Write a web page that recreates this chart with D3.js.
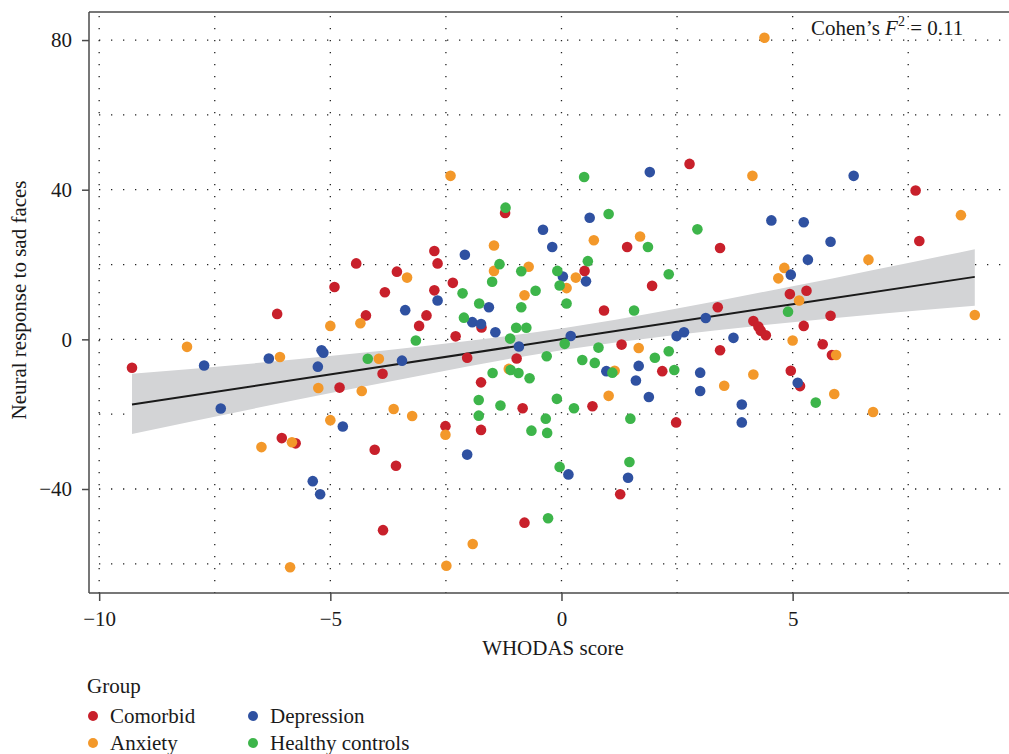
<!DOCTYPE html>
<html>
<head>
<meta charset="utf-8">
<script src="https://cdn.jsdelivr.net/npm/d3@7"></script>
<style>
  body { margin: 0; background: #fff; }
  svg text { font-family: "Liberation Serif", "DejaVu Serif", serif; fill: #1a1a1a; }
</style>
</head>
<body>
<div class="chart"></div>
<script>
// group data: [WHODAS score, neural response]
const comorbid = [
  [-9.29, -7.6], [-6.15, 6.8], [-6.05, -26.4], [-5.75, -27.8], [-4.91, 14.0], [-4.80, -12.9],
  [-4.44, 20.3], [-4.23, 6.4], [-4.04, -29.5], [-3.87, -9.2], [-3.86, -51.0], [-3.82, 12.6],
  [-3.58, -33.8], [-3.56, 18.1], [-3.08, 3.6], [-2.92, 6.4], [-2.75, 23.6], [-2.75, 13.1],
  [-2.68, 20.3], [-2.51, -23.2], [-2.35, 15.1], [-2.29, 0.8], [-2.04, -4.9], [-1.74, -11.5],
  [-1.74, -24.2], [-1.73, 3.2], [-1.22, 33.8], [-0.97, -5.1], [-0.84, -18.4], [-0.80, -49.0],
  [0.50, 18.3], [0.67, -17.9], [0.92, 7.7], [1.27, -41.4], [1.30, -1.4], [1.42, 24.7],
  [1.96, 14.3], [2.18, -8.5], [2.48, -22.2], [2.77, 46.9], [3.38, 8.6], [3.43, -2.9],
  [3.43, 24.4], [4.15, 4.9], [4.26, 3.4], [4.31, 2.3], [4.42, 1.1], [4.94, 12.1],
  [4.96, -8.4], [5.16, -12.5], [5.24, 3.6], [5.30, 13.0], [5.65, -1.3], [5.82, 6.3],
  [5.85, -4.2], [7.66, 39.8], [7.74, 26.3]
];
const anxiety = [
  [-8.10, -2.0], [-6.49, -28.8], [-6.09, -4.7], [-5.87, -60.9], [-5.83, -27.5], [-5.26, -13.0],
  [-5.00, 3.6], [-5.00, -21.6], [-4.35, 4.3], [-4.32, -13.8], [-3.95, -5.2], [-3.63, -18.6],
  [-3.34, 16.5], [-3.23, -20.5], [-2.51, -25.5], [-2.49, -60.5], [-2.40, 43.7], [-1.92, -54.7],
  [-1.46, 25.1], [-1.46, 18.3], [-1.14, -7.9], [-0.80, 11.8], [-0.71, 19.4], [0.11, 13.7],
  [0.31, 16.5], [0.70, 26.5], [1.02, -15.1], [1.15, -8.4], [1.67, -2.3], [1.70, 27.5],
  [3.52, -12.4], [4.13, 43.7], [4.15, -9.4], [4.39, 80.6], [4.69, 16.3], [4.82, 19.1],
  [5.00, -0.3], [5.14, 10.4], [5.90, -14.6], [5.94, -4.2], [6.64, 21.3], [6.74, -19.4],
  [8.64, 33.2], [8.94, 6.5]
];
const depression = [
  [-7.73, -7.0], [-7.37, -18.5], [-6.33, -5.1], [-5.38, -37.9], [-5.27, -7.3], [-5.22, -41.4],
  [-5.19, -2.9], [-5.15, -3.6], [-4.73, -23.3], [-3.45, -5.7], [-3.38, 7.8], [-2.68, 10.4],
  [-2.09, 22.6], [-2.04, -30.8], [-1.93, 4.6], [-1.74, 4.1], [-1.57, 8.6], [-1.43, 1.9],
  [-0.92, -1.9], [-0.40, 29.3], [-0.20, 24.7], [0.03, 16.8], [0.15, -36.1], [0.20, 0.9],
  [0.53, 15.5], [0.61, 32.5], [0.97, -8.5], [1.44, -37.0], [1.61, -11.0], [1.67, -7.1],
  [1.89, -15.4], [1.91, 44.7], [2.49, 0.9], [2.65, 1.9], [3.00, -8.9], [3.00, -13.8],
  [3.12, 5.7], [3.72, 0.4], [3.90, -17.4], [3.90, -22.2], [4.54, 31.8], [4.96, 17.3],
  [5.11, -11.6], [5.24, 31.3], [5.33, 21.3], [5.82, 26.1], [6.32, 43.7]
];
const healthy = [
  [-4.19, -5.2], [-3.15, -0.3], [-2.14, 12.3], [-2.11, 5.8], [-1.79, -16.2], [-1.79, -20.4],
  [-1.78, 9.6], [-1.50, 15.4], [-1.49, -9.0], [-1.34, 20.1], [-1.32, -17.7], [-1.21, 35.2],
  [-1.11, 0.2], [-1.10, -8.2], [-0.98, 3.1], [-0.93, -9.0], [-0.87, 18.2], [-0.87, 8.6],
  [-0.76, 3.1], [-0.69, -10.4], [-0.65, -24.4], [-0.56, 13.0], [-0.34, -21.2], [-0.32, -4.5],
  [-0.31, -25.0], [-0.29, -47.8], [-0.10, -15.9], [-0.09, 18.3], [-0.04, 14.4], [-0.04, -34.1],
  [0.07, -1.2], [0.11, 9.6], [0.27, -18.4], [0.45, -5.5], [0.49, 43.4], [0.57, 20.9],
  [0.72, -6.3], [0.80, -2.2], [1.02, 33.5], [1.10, -8.9], [1.47, -32.8], [1.49, -21.2],
  [1.57, 7.7], [1.87, 24.7], [2.02, -4.9], [2.32, 17.4], [2.32, -3.2], [2.44, -8.2],
  [2.94, 29.4], [4.90, 7.4], [5.50, -16.9]
];

const groupNames = ['Comorbid', 'Anxiety', 'Depression', 'Healthy controls'];
const groupColors = ['#c8202b', '#f3982a', '#2f51a1', '#3db54a'];

// fitted line and confidence band, read at a few x positions
const bandX  = [-9.29, -4.8, 0.1, 5.0, 8.94];
const fitY   = [-17.4, -9.0, 0.2, 9.4, 16.7];
const bandLo = [-25.3, -13.9, -2.7, 4.6, 9.0];
const bandHi = [-9.2, -4.2, 3.1, 14.2, 24.1];

const xTicks = [-10, -5, 0, 5];
const yTicks = [-40, 0, 40, 80];
const xGrid = [-10, -7.5, -5, -2.5, 0, 2.5, 5, 7.5];
const yGrid = [-60, -40, -20, 0, 20, 40, 60, 80];

const width = 1009, height = 754;
const mLeft = 89, mTop = 12, mRight = 1009, mBottom = 593;
const fontSize = '21px';

const svg = d3.select('.chart').append('svg')
    .attr('width', width)
    .attr('height', height);

const x = d3.scaleLinear().domain([-10.22, 9.68]).range([mLeft, mRight]);
const y = d3.scaleLinear().domain([-67.8, 87.5]).range([mBottom, mTop]);

// dotted grid
svg.selectAll('.vgrid').data(xGrid).enter().append('line')
    .attr('class', 'vgrid')
    .attr('x1', d => x(d)).attr('x2', d => x(d))
    .attr('y1', mTop + 4).attr('y2', mBottom)
    .style('stroke', '#222').style('stroke-width', 1.3)
    .style('stroke-dasharray', '1.3 10.7');
svg.selectAll('.hgrid').data(yGrid).enter().append('line')
    .attr('class', 'hgrid')
    .attr('x1', mLeft + 10).attr('x2', mRight)
    .attr('y1', d => y(d)).attr('y2', d => y(d))
    .style('stroke', '#222').style('stroke-width', 1.3)
    .style('stroke-dasharray', '1.3 10.7');

// confidence band + fit
const bandData = bandX.map((v, i) => ({ x: v, lo: bandLo[i], hi: bandHi[i], fit: fitY[i] }));
svg.append('path')
    .datum(bandData)
    .attr('d', d3.area().x(d => x(d.x)).y0(d => y(d.lo)).y1(d => y(d.hi)).curve(d3.curveMonotoneX))
    .style('fill', '#d3d4d6');
svg.append('path')
    .datum(bandData)
    .attr('d', d3.line().x(d => x(d.x)).y(d => y(d.fit)))
    .style('fill', 'none')
    .style('stroke', '#1a1a1a')
    .style('stroke-width', 2);

// points
[comorbid, anxiety, depression, healthy].forEach((grp, gi) => {
    svg.append('g').selectAll('circle')
        .data(grp)
        .enter().append('circle')
        .attr('cx', d => x(d[0]))
        .attr('cy', d => y(d[1]))
        .attr('r', 5.3)
        .style('fill', groupColors[gi]);
});

// frame
const frameColor = '#4a4a4a';
svg.append('line').attr('x1', mLeft).attr('x2', mRight).attr('y1', mTop).attr('y2', mTop)
    .style('stroke', frameColor).style('stroke-width', 1.5);
svg.append('line').attr('x1', mLeft).attr('x2', mRight).attr('y1', mBottom).attr('y2', mBottom)
    .style('stroke', frameColor).style('stroke-width', 1.5);
svg.append('line').attr('x1', mLeft).attr('x2', mLeft).attr('y1', mTop).attr('y2', mBottom)
    .style('stroke', frameColor).style('stroke-width', 1.5);

// axes
const xAxis = svg.append('g')
    .attr('transform', `translate(0,${mBottom})`)
    .call(d3.axisBottom(x).tickValues(xTicks).tickSize(8).tickPadding(10).tickFormat(d3.format('d')));
const yAxis = svg.append('g')
    .attr('transform', `translate(${mLeft},0)`)
    .call(d3.axisLeft(y).tickValues(yTicks).tickSize(7).tickPadding(10).tickFormat(d3.format('d')));
[xAxis, yAxis].forEach(a => {
    a.select('.domain').remove();
    a.selectAll('.tick line').style('stroke', frameColor).style('stroke-width', 1.5);
    a.selectAll('.tick text')
        .style('font-family', '"Liberation Serif", serif')
        .style('font-size', fontSize)
        .style('fill', '#1a1a1a');
});

// axis titles
svg.append('text')
    .attr('x', 553).attr('y', 655)
    .attr('text-anchor', 'middle')
    .style('font-size', fontSize)
    .text('WHODAS score');
svg.append('text')
    .attr('transform', `translate(26,300) rotate(-90)`)
    .attr('text-anchor', 'middle')
    .style('font-size', fontSize)
    .text('Neural response to sad faces');

// effect size note
const note = svg.append('text')
    .attr('x', 811).attr('y', 35)
    .style('font-size', fontSize);
note.append('tspan').text('Cohen\u2019s ');
note.append('tspan').style('font-style', 'italic').text('F');
note.append('tspan').attr('dy', -9).style('font-size', '14px').text('2');
note.append('tspan').attr('dy', 9).text(' = 0.11');

// legend
svg.append('text')
    .attr('x', 87).attr('y', 693)
    .style('font-size', fontSize)
    .text('Group');
const legendPos = [[93, 716], [93, 743], [253, 716], [253, 743]];
groupNames.forEach((name, i) => {
    const [lx, ly] = legendPos[i];
    svg.append('circle')
        .attr('cx', lx).attr('cy', ly).attr('r', 5)
        .style('fill', groupColors[i]);
    svg.append('text')
        .attr('x', lx + 17).attr('y', ly + 7)
        .style('font-size', fontSize)
        .text(name);
});
</script>
</body>
</html>
